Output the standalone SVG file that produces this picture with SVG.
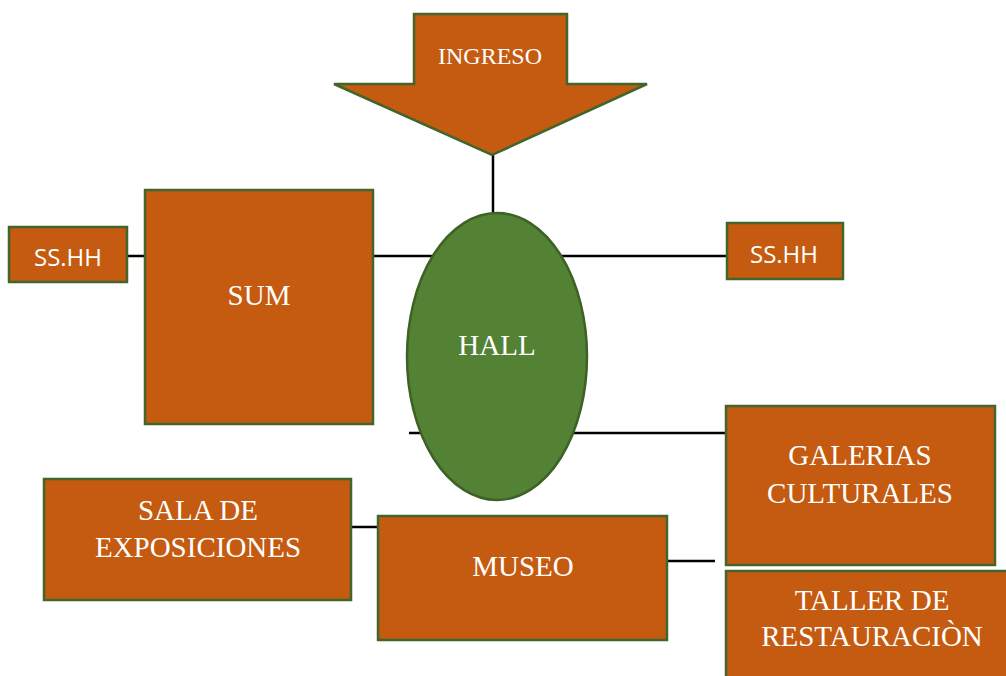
<svg xmlns="http://www.w3.org/2000/svg" width="1006" height="676" viewBox="0 0 1006 676">
<style>
.box{fill:#C55A11;stroke:#41652A;stroke-width:2.5}
.hall{fill:#548235;stroke:#3E6126;stroke-width:2.5}
.conn{stroke:#000;stroke-width:2.5;fill:none}
.t{font-family:"Liberation Serif","Times New Roman",serif;font-size:29px;fill:#fff;text-anchor:middle}
.ti{font-family:"Liberation Serif","Times New Roman",serif;font-size:24px;fill:#fff;text-anchor:middle}
.s{font-family:"Open Sans","Noto Sans",sans-serif;font-size:24px;fill:#fff;text-anchor:middle}
</style>
<rect width="1006" height="676" fill="#fff"/>
<g id="connectors">
<line class="conn" x1="493" y1="155" x2="493" y2="214"/>
<line class="conn" x1="127" y1="256" x2="145" y2="256"/>
<line class="conn" x1="373" y1="256" x2="733" y2="256"/>
<line class="conn" x1="409" y1="433" x2="727" y2="433"/>
<line class="conn" x1="351" y1="527" x2="378" y2="527"/>
<line class="conn" x1="667" y1="561" x2="715" y2="561"/>
</g>
<g id="ingreso">
<polygon class="box" points="414,14 567,14 567,84 647,84 492,155 334,84 414,84"/>
<text class="ti" x="490" y="64">INGRESO</text>
</g>
<g id="hall">
<ellipse class="hall" cx="497" cy="356.5" rx="90" ry="143.5"/>
<text class="t" x="497" y="355">HALL</text>
</g>
<g id="sshh-left">
<rect class="box" x="9" y="227" width="118" height="55"/>
<text class="s" x="68" y="266">SS.HH</text>
</g>
<g id="sum">
<rect class="box" x="145" y="190" width="228" height="234"/>
<text class="t" x="259" y="305">SUM</text>
</g>
<g id="sshh-right">
<rect class="box" x="727" y="223" width="116" height="56"/>
<text class="s" x="784" y="263">SS.HH</text>
</g>
<g id="galerias">
<rect class="box" x="726" y="406" width="269" height="159"/>
<text class="t" x="860" y="465">GALERIAS</text>
<text class="t" x="860" y="503">CULTURALES</text>
</g>
<g id="taller">
<rect class="box" x="726" y="571" width="292" height="120"/>
<text class="t" x="872" y="610">TALLER DE</text>
<text class="t" x="872" y="646">RESTAURACIÒN</text>
</g>
<g id="sala">
<rect class="box" x="44" y="479" width="307" height="121"/>
<text class="t" x="198" y="520">SALA DE</text>
<text class="t" x="198" y="557">EXPOSICIONES</text>
</g>
<g id="museo">
<rect class="box" x="378" y="516" width="289" height="124"/>
<text class="t" x="523" y="576">MUSEO</text>
</g>
</svg>
